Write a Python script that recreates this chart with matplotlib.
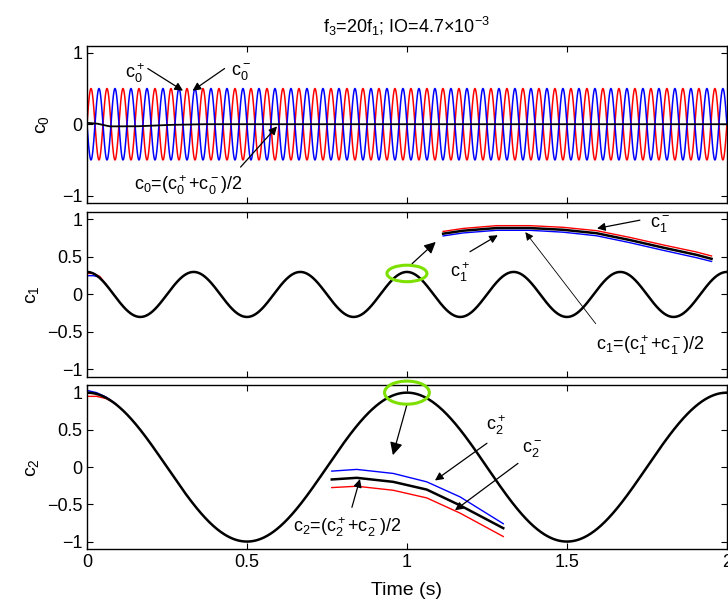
import numpy as np
import matplotlib
matplotlib.use("Agg")
import matplotlib.pyplot as plt
from matplotlib.patches import Ellipse

plt.rcParams['font.family'] = ['Liberation Sans', 'DejaVu Sans']
plt.rcParams['mathtext.fontset'] = 'custom'
plt.rcParams['mathtext.rm'] = 'Liberation Sans'
plt.rcParams['mathtext.it'] = 'Liberation Sans'
plt.rcParams['mathtext.default'] = 'regular'

# time (s)
t = np.linspace(0, 2, 4001)

# c0: the two components oscillate in counter-phase at f3
c0_amp = 0.5
c0_freq = 20.0
c0_mean_t = [0.0, 0.03, 0.07, 0.15, 0.25, 0.35, 2.0]
c0_mean_v = [0.02, 0.01, -0.03, -0.03, -0.01, 0.0, 0.0]

# c1 and c2 (mean of + and - components)
c1_amp, c1_freq = 0.3, 3.0
c2_amp, c2_freq = 1.0, 1.0

# start-up part where + and - components still differ
c1_start_t = [0.0, 0.02, 0.04, 0.06]
c1_plus_start = [0.25, 0.25, 0.23, 0.13]
c1_minus_start = [0.28, 0.28, 0.24, 0.13]
c2_start_t = [0.0, 0.03, 0.06, 0.09]
c2_plus_start = [1.03, 1.00, 0.94, 0.85]
c2_minus_start = [0.95, 0.95, 0.92, 0.85]

# zoomed view of c1 around its peak at t = 1 s
z1_t = [1.113, 1.176, 1.280, 1.384, 1.488, 1.593, 1.697, 1.801, 1.905, 1.952]
z1_minus = [0.84, 0.88, 0.917, 0.917, 0.895, 0.85, 0.76, 0.66, 0.566, 0.513]
z1_mean = [0.81, 0.85, 0.885, 0.885, 0.862, 0.816, 0.725, 0.624, 0.528, 0.475]
z1_plus = [0.78, 0.82, 0.855, 0.855, 0.83, 0.782, 0.69, 0.588, 0.49, 0.44]

# zoomed view of c2 around its peak at t = 1 s
z2_t = [0.765, 0.843, 0.957, 1.062, 1.166, 1.301]
z2_plus = [-0.054, -0.031, -0.085, -0.198, -0.40, -0.76]
z2_mean = [-0.166, -0.144, -0.198, -0.302, -0.514, -0.82]
z2_minus = [-0.275, -0.257, -0.311, -0.414, -0.618, -0.932]

c0_plus = c0_amp * np.sin(2 * np.pi * c0_freq * t)
c0_minus = -c0_plus
c0 = np.interp(t, c0_mean_t, c0_mean_v)
c1 = c1_amp * np.cos(2 * np.pi * c1_freq * t)
c2 = c2_amp * np.cos(2 * np.pi * c2_freq * t)

fig = plt.figure(figsize=(7.28, 6.09), dpi=100)
W = 0.879
ax0 = fig.add_axes([0.1195, 0.667, W, 0.258])
ax1 = fig.add_axes([0.1195, 0.381, W, 0.271])
ax2 = fig.add_axes([0.1195, 0.0985, W, 0.269])

fs = 13
arrow = dict(arrowstyle='-|>', color='k', lw=0.9, mutation_scale=12,
             shrinkA=0, shrinkB=0)

for ax in (ax0, ax1, ax2):
    ax.set_xlim(0, 2)
    ax.set_ylim(-1.1, 1.1)
    ax.set_xticks([0, 0.5, 1, 1.5, 2])
    ax.tick_params(direction='in', top=True, right=True, length=4,
                   width=0.8, labelsize=fs)
    for s in ax.spines.values():
        s.set_linewidth(1.0)

ax0.set_xticklabels([])
ax1.set_xticklabels([])
ax2.set_xticklabels(['0', '0.5', '1', '1.5', '2'])
ax0.set_yticks([-1, 0, 1])
ax0.set_yticklabels(['\u22121', '0', '1'])
for ax in (ax1, ax2):
    ax.set_yticks([-1, -0.5, 0, 0.5, 1])
    ax.set_yticklabels(['\u22121', '\u22120.5', '0', '0.5', '1'])

# c0
ax0.plot(t, c0_plus, color='red', lw=1.1)
ax0.plot(t, c0_minus, color='blue', lw=1.1)
ax0.plot(t, c0, color='k', lw=1.3)
ax0.set_ylabel('$c_0$', fontsize=14, labelpad=8)
ax0.set_title('$f_3$=20$f_1$; IO=4.7\u00d710$^{-3}$', fontsize=13, pad=9)
ax0.annotate('', xy=(0.30, 0.47), xytext=(0.19, 0.78), arrowprops=arrow)
ax0.annotate('', xy=(0.33, 0.47), xytext=(0.43, 0.78), arrowprops=arrow)
ax0.text(0.15, 0.72, '$c_0^+$', fontsize=fs, ha='center', va='center')
ax0.text(0.48, 0.72, '$c_0^-$', fontsize=fs, ha='center', va='center')
ax0.annotate('', xy=(0.594, -0.03), xytext=(0.48, -0.6), arrowprops=arrow)
ax0.text(0.316, -0.85, '$c_0$=($c_0^+$+$c_0^-$)/2', fontsize=fs,
         ha='center', va='center')

# c1
ax1.plot(c1_start_t, c1_plus_start, color='blue', lw=1.0)
ax1.plot(c1_start_t, c1_minus_start, color='red', lw=1.0)
ax1.plot(t, c1, color='k', lw=1.8)
ax1.plot(z1_t, z1_minus, color='red', lw=1.0)
ax1.plot(z1_t, z1_plus, color='blue', lw=1.0)
ax1.plot(z1_t, z1_mean, color='k', lw=1.8)
ax1.add_patch(Ellipse((1.0, 0.28), 0.125, 0.22, fill=False,
                      edgecolor='#7de000', lw=2.2, zorder=5))
ax1.annotate('', xy=(1.09, 0.70), xytext=(1.016, 0.41),
             arrowprops=dict(arrow, mutation_scale=17))
ax1.set_ylabel('$c_1$', fontsize=14)
ax1.annotate('', xy=(1.594, 0.88), xytext=(1.728, 0.99), arrowprops=arrow)
ax1.text(1.79, 0.93, '$c_1^-$', fontsize=fs, ha='center', va='center')
ax1.annotate('', xy=(1.284, 0.79), xytext=(1.197, 0.57), arrowprops=arrow)
ax1.text(1.166, 0.30, '$c_1^+$', fontsize=fs, ha='center', va='center')
ax1.annotate('', xy=(1.37, 0.83), xytext=(1.59, -0.39),
             arrowprops=dict(arrow, lw=0.6))
ax1.text(1.76, -0.68, '$c_1$=($c_1^+$+$c_1^-$)/2', fontsize=fs,
         ha='center', va='center')

# c2
ax2.plot(c2_start_t, c2_plus_start, color='blue', lw=1.0)
ax2.plot(c2_start_t, c2_minus_start, color='red', lw=1.0)
ax2.plot(t, c2, color='k', lw=1.8)
ax2.plot(z2_t, z2_plus, color='blue', lw=1.0)
ax2.plot(z2_t, z2_minus, color='red', lw=1.0)
ax2.plot(z2_t, z2_mean, color='k', lw=1.8)
ax2.add_patch(Ellipse((1.0, 1.0), 0.14, 0.31, fill=False,
                      edgecolor='#7de000', lw=2.2, zorder=5, clip_on=False))
ax2.annotate('', xy=(0.956, 0.16), xytext=(1.0, 0.84),
             arrowprops=dict(arrow, mutation_scale=19))
ax2.set_ylabel('$c_2$', fontsize=14)
ax2.annotate('', xy=(1.0875, -0.18), xytext=(1.25, 0.32), arrowprops=arrow)
ax2.text(1.278, 0.57, '$c_2^+$', fontsize=fs, ha='center', va='center')
ax2.annotate('', xy=(1.15, -0.58), xytext=(1.347, 0.05), arrowprops=arrow)
ax2.text(1.39, 0.23, '$c_2^-$', fontsize=fs, ha='center', va='center')
ax2.annotate('', xy=(0.853, -0.16), xytext=(0.828, -0.54), arrowprops=arrow)
ax2.text(0.8125, -0.81, '$c_2$=($c_2^+$+$c_2^-$)/2', fontsize=fs,
         ha='center', va='center')
ax2.set_xlabel('Time (s)', fontsize=14, labelpad=8)

fig.savefig('out.png', dpi=100)
